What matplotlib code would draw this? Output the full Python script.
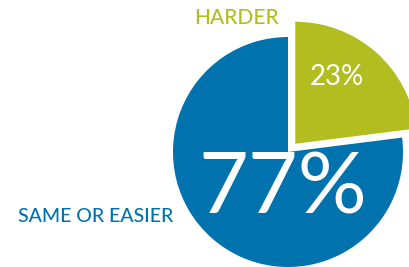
import matplotlib
matplotlib.use("Agg")
import matplotlib.pyplot as plt

categories = ["HARDER", "SAME OR EASIER"]
values = [23, 77]
pct_labels = ["23%", "77%"]
colors = ["#b2bd20", "#0072ae"]

plt.rcParams['font.family'] = ['Lato', 'DejaVu Sans']

fig = plt.figure(figsize=(4.09, 2.67), dpi=100)
ax = fig.add_axes([0, 0, 1, 1])

wedges, _ = ax.pie(values, colors=colors, startangle=90, counterclock=False,
                   center=(288, 115), radius=115, explode=[11, 0],
                   frame=True)
wedges[0].set_radius(122)
ax.set_xlim(0, 409)
ax.set_ylim(0, 267)
ax.set_aspect('equal')
ax.axis('off')

ax.text(337, 267 - 77, pct_labels[0], color='white', fontsize=20,
        ha='center', va='center')
ax.text(283, 267 - 190, pct_labels[1], color='white', fontsize=62,
        ha='center', va='center')
ax.text(236, 267 - 18.5, categories[0], color=colors[0], fontsize=15,
        ha='center', va='center', fontweight='medium')
ax.text(96, 267 - 217, categories[1], color=colors[1], fontsize=14,
        ha='center', va='center', fontweight='medium')

fig.savefig("out.png", dpi=100)
